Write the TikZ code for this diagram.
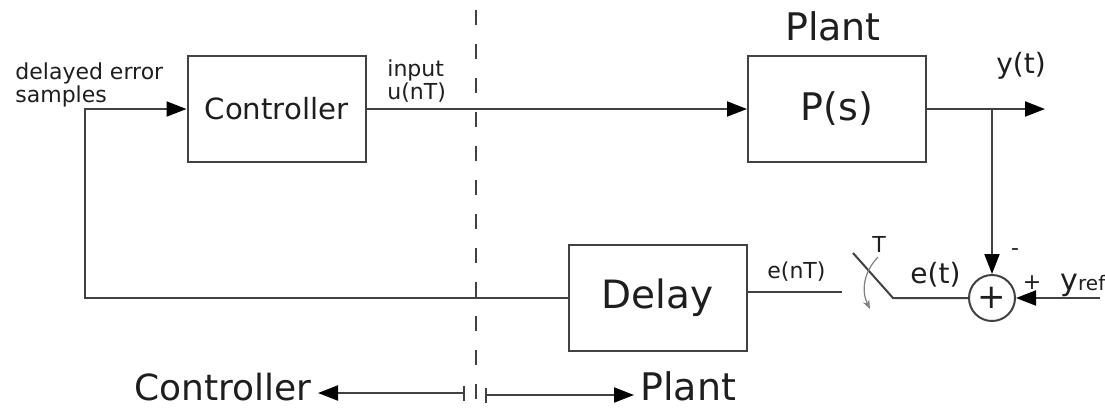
\documentclass[tikz,border=0pt]{standalone}
\usepackage{fontspec}
\setmainfont{DejaVu Sans}
\usetikzlibrary{arrows.meta,positioning,calc}
\definecolor{wire}{RGB}{65,65,65}
\definecolor{ink}{RGB}{30,30,30}
\tikzset{
  >={Triangle[length=10pt,width=7.5pt,color=black]},
  block/.style={draw=wire,line width=1pt,minimum width=89pt,minimum height=53pt,
    inner sep=0pt,text=ink,font=\fontsize{#1}{#1}\selectfont},
  block/.default=19,
  link/.style={draw=wire,line width=1pt},
  tag/.style={text=ink,inner sep=0pt,font=\fontsize{#1}{#1}\selectfont},
  tag/.default=11,
  side/.style={text=ink,inner sep=3pt,font=\fontsize{#1}{#1}\selectfont},
}
\begin{document}
\begin{tikzpicture}[x=0.5pt,y=-0.5pt]
  \useasboundingbox (0,0) rectangle (1105,409);
  % blocks
  \node[block=14.6] (ctrl) at (276.5,109) {Controller};
  \node[block=19] (plant) at (837,109) {P(s)};
  \node[block=19.5] (delay) at (657.5,298) {Delay};
  \node[circle,draw=wire,line width=1pt,minimum size=23pt,inner sep=0pt,text=ink,
    font=\fontsize{17}{17}\selectfont] (sum) at (992,298) {+};
  % loop
  \coordinate (fb) at (85,0);
  \coordinate (yout) at (1045,109);
  \coordinate (yref) at (1100,298);
  \draw[link,->] (delay.west) -| (fb |- ctrl.west) -- (ctrl.west);
  \draw[link,->] (ctrl) -- (plant);
  \draw[link,->] (plant) -- (yout);
  \draw[link,->] (sum |- plant.east) -- (sum);
  \draw[link,->] (yref) -- (sum);
  % sampler
  \coordinate (swA) at (842,292);
  \coordinate (swB) at (853,253);
  \coordinate (swC) at (893,298);
  \coordinate (rotA) at (878,257);
  \coordinate (rotB) at (870,309);
  \draw[link] ([yshift=3pt]delay.east) -- (swA);
  \draw[link] (swB) -- (swC) -- (sum);
  \draw[gray,line width=0.6pt,-{Stealth[length=4.5pt,width=3.5pt]}] (rotA) to[bend right=35] (rotB);
  % labels
  \node[tag,anchor=north west,align=left,font=\fontsize{11}{10}\selectfont] (dly) at (15,62) {delayed error\\samples};
  \node[tag,anchor=north west,align=left,font=\fontsize{11}{10}\selectfont] (inp) at (387,59) {input\\u(nT)};
  \node[tag,anchor=base west] (enT) at (767,278) {e(nT)};
  \node[tag,anchor=base] (per) at (879,252) {T};
  \node[tag=14,anchor=base west] (et) at (910,283) {e(t)};
  \node[tag] (minus) at (1015,252) {-};
  \node[tag] (plus) at (1032,283) {+};
  \node[tag=15,anchor=base west] (yr) at (1060,290) {y{\fontsize{10}{10}\selectfont ref}};
  \node[tag=14,anchor=base west] (yt) at (996,73) {y(t)};
  \node[tag=19,anchor=base] (plantTop) at (833,40) {Plant};
  % divide
  \draw[wire,line width=1pt,dash pattern=on 7.5pt off 9.5pt] (476,10) -- (476,399);
  \coordinate (divL) at (465,393);
  \coordinate (divR) at (485,395);
  \node[side=18,anchor=base east] (sideC) at (318,400) {Controller};
  \node[side=19,anchor=base west] (sideP) at (634,400) {Plant};
  \draw[link,{Bar[width=7.5pt]}->] (divL) -- (divL -| sideC.east);
  \draw[link,{Bar[width=7.5pt]}->] (divR) -- (divR -| sideP.west);
\end{tikzpicture}
\end{document}
